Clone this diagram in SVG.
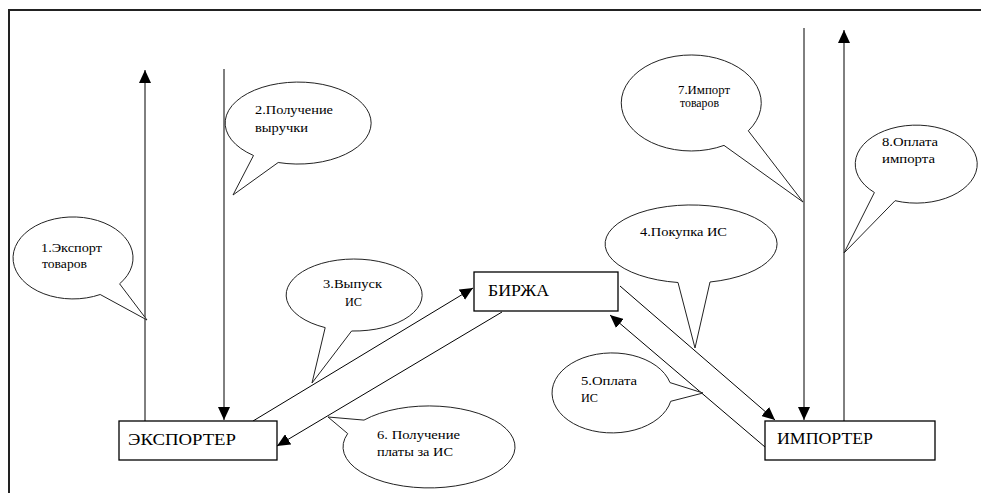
<svg xmlns="http://www.w3.org/2000/svg" width="981" height="493" viewBox="0 0 981 493">
<style>
.frame{stroke:#222;stroke-width:2;fill:none}
.box{fill:#fff;stroke:#000;stroke-width:1.3}
.blabel{font-size:16px;fill:#000}
.call{fill:#fff;stroke:#222;stroke-width:1}
.ctext{font-size:11.5px;fill:#000}
.conn{stroke:#000;stroke-width:1;fill:none;marker-end:url(#ah)}
</style>
<defs>
<marker id="ah" markerUnits="userSpaceOnUse" markerWidth="14" markerHeight="12" refX="13" refY="6" orient="auto">
<path d="M0,0 L13,6 L0,12 Z" fill="#000"/>
</marker>
</defs>
<rect width="981" height="493" fill="#fff"/>
<path class="frame" d="M9,493 V10 H981"/>

<g id="connectors">
<line class="conn" x1="145" y1="421" x2="145" y2="70"/>
<line class="conn" x1="224" y1="69" x2="224" y2="420"/>
<line class="conn" x1="253" y1="421" x2="473" y2="288"/>
<line class="conn" x1="502" y1="312" x2="277" y2="446"/>
<line class="conn" x1="765" y1="447" x2="610" y2="315"/>
<line class="conn" x1="620" y1="286" x2="775" y2="420"/>
<line class="conn" x1="804" y1="28" x2="804" y2="420"/>
<line class="conn" x1="844" y1="421" x2="844" y2="30"/>
</g>

<g font-family="'Liberation Serif', 'DejaVu Serif', 'Times New Roman', serif">
<g id="exporter">
<rect class="box" x="119" y="421" width="158" height="39"/>
<text class="blabel" x="128" y="445" textLength="108" lengthAdjust="spacingAndGlyphs">ЭКСПОРТЕР</text>
</g>
<g id="birzha">
<rect class="box" x="474" y="272" width="144" height="39"/>
<text class="blabel" x="488" y="296" textLength="61" lengthAdjust="spacingAndGlyphs">БИРЖА</text>
</g>
<g id="importer">
<rect class="box" x="765" y="421" width="170" height="39"/>
<text class="blabel" x="777" y="444" textLength="96" lengthAdjust="spacingAndGlyphs">ИМПОРТЕР</text>
</g>

<g id="callout1">
<path class="call" d="M100.2,294.5 A60,41 0 1 1 119.6,283.8 L147,320 Z"/>
<text class="ctext" x="41" y="252" textLength="61" lengthAdjust="spacingAndGlyphs">1.Экспорт</text>
<text class="ctext" x="42" y="268" textLength="45" lengthAdjust="spacingAndGlyphs">товаров</text>
</g>
<g id="callout2">
<path class="call" d="M253.5,155.5 A73,41 0 1 1 278.2,162.5 L233,195 Z"/>
<text class="ctext" x="255" y="114" textLength="78" lengthAdjust="spacingAndGlyphs">2.Получение</text>
<text class="ctext" x="255" y="132" textLength="53" lengthAdjust="spacingAndGlyphs">выручки</text>
</g>
<g id="callout3">
<path class="call" d="M325.2,327.6 A68,36 0 1 1 351.6,331 L312,383 Z"/>
<text class="ctext" x="323" y="288" textLength="59" lengthAdjust="spacingAndGlyphs">3.Выпуск</text>
<text class="ctext" x="345" y="306" textLength="17" lengthAdjust="spacingAndGlyphs">ИС</text>
</g>
<g id="callout4">
<path class="call" d="M678,282.5 A86,39 0 1 1 710,282 L695,348 Z"/>
<text class="ctext" x="640" y="236" textLength="87" lengthAdjust="spacingAndGlyphs">4.Покупка ИС</text>
</g>
<g id="callout5">
<path class="call" d="M670.7,401.3 A60,40 0 1 1 670,382.6 L703,393 Z"/>
<text class="ctext" x="581" y="385" textLength="56" lengthAdjust="spacingAndGlyphs">5.Оплата</text>
<text class="ctext" x="581" y="402" textLength="17" lengthAdjust="spacingAndGlyphs">ИС</text>
</g>
<g id="callout6">
<path class="call" d="M364,420.1 A86,41 0 1 1 347.7,433.6 L328,417 Z"/>
<text class="ctext" x="377" y="439" textLength="83" lengthAdjust="spacingAndGlyphs">6. Получение</text>
<text class="ctext" x="377" y="456" textLength="76" lengthAdjust="spacingAndGlyphs">платы за ИС</text>
</g>
<g id="callout7">
<path class="call" d="M724,145.4 A70,48 0 1 1 748.3,130.8 L803,202 Z"/>
<text class="ctext" x="678" y="94" textLength="52" lengthAdjust="spacingAndGlyphs">7.Импорт</text>
<text class="ctext" x="680" y="107" textLength="39" lengthAdjust="spacingAndGlyphs">товаров</text>
</g>
<g id="callout8">
<path class="call" d="M874.4,192.5 A61,39 0 1 1 895.1,200.7 L844,253 Z"/>
<text class="ctext" x="882" y="146" textLength="56" lengthAdjust="spacingAndGlyphs">8.Оплата</text>
<text class="ctext" x="882" y="163" textLength="53" lengthAdjust="spacingAndGlyphs">импорта</text>
</g>
</g>
</svg>
